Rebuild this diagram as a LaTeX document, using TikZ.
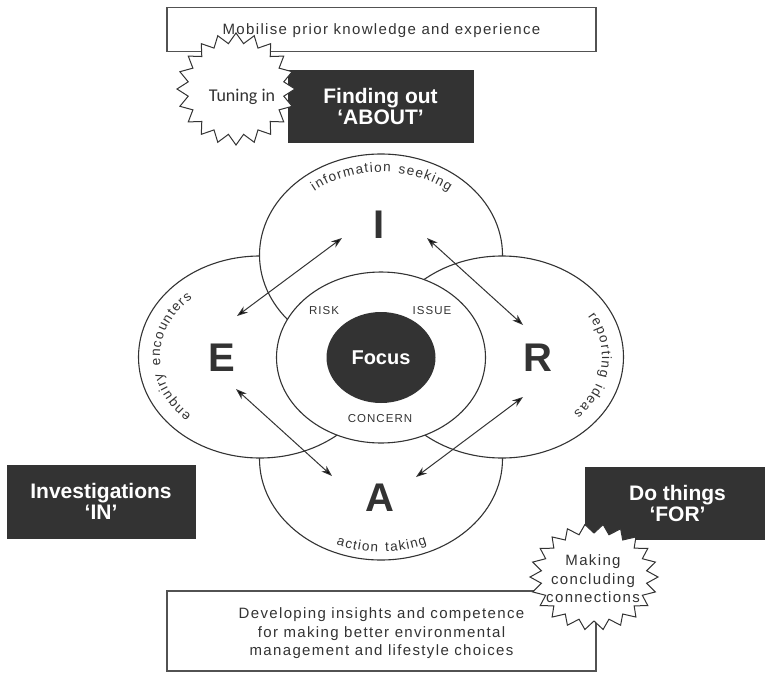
\documentclass[tikz,border=0pt]{standalone}
\usepackage{fontspec}
\setmainfont{Liberation Sans}
\newfontfamily\spaced[LetterSpace=9]{Liberation Sans}
\newfontfamily\calib{Carlito}
\usetikzlibrary{arrows.meta,shapes.geometric,decorations.text}
\definecolor{ink}{HTML}{333333}
\newcommand\arcfont{\spaced\fontsize{13.5}{13.5}\selectfont\kern1.3pt}

\begin{document}
\begin{tikzpicture}[x=1pt,y=-1pt,>={Stealth[length=11pt,width=7.5pt]},
  every node/.style={text=ink},
  plain/.style={font=\spaced\fontsize{15}{18.5}\selectfont,align=center},
  framebox/.style={draw=ink!85,line width=1.6pt,fill=white,inner sep=0pt},
  darkbox/.style={fill=ink,draw=ink,text=white,inner sep=0pt,align=center,
    font=\bfseries\fontsize{21}{21}\selectfont},
  lobe/.style={draw=ink,line width=1.1pt,fill=white},
  letter/.style={font=\bfseries\fontsize{40}{40}\selectfont,inner sep=0pt},
  small/.style={font=\spaced\fontsize{11.5}{11.5}\selectfont},
  arclabel/.style={decorate,decoration={text along path,text align=center,
    text color=ink,text={|\arcfont|#1}}},
  burst/.style={draw=ink,line width=1pt,fill=white},
  link/.style={<->,draw=ink,line width=1pt}]

\useasboundingbox (0,0) rectangle (765,672);

% boxes
\node[framebox,plain,text depth=0pt,minimum width=429,minimum height=44] (mobilise) at (381.5,29.5)
  {Mobilise prior knowledge and experience};
\node[darkbox,minimum width=185,minimum height=72] (about) at (380.5,106)
  {Finding out\\`ABOUT'};
\node[darkbox,minimum width=188,minimum height=73] (in) at (101,501.5)
  {Investigations\\`IN'};
\node[darkbox,minimum width=185,minimum height=72] (for) at (677.5,503)
  {Do things\\`FOR'};
\node[framebox,minimum width=429,minimum height=80] (develop) at (381.5,631) {};
\node[plain] (developtext) at (381.5,633.5)
  {Developing insights and competence\\for making better environmental\\management and lifestyle choices};

% the four lobes
\draw[lobe] (381,459) ellipse [x radius=121.5,y radius=101];
\draw[lobe] (260,357) ellipse [x radius=121.5,y radius=101];
\draw[lobe] (381,255) ellipse [x radius=121.5,y radius=101];
\draw[lobe] (502,357) ellipse [x radius=121.5,y radius=101];
\draw[lobe] (381,357.5) ellipse [x radius=104.5,y radius=85.5];

\path[arclabel={information seeking},shift={(381,255)}]
  (215:104.5 and 83) arc[start angle=215,end angle=325,x radius=104.5,y radius=83];
\path[arclabel={enquiry encounters},shift={(260,357)}]
  (125:100 and 80) arc[start angle=125,end angle=235,x radius=100,y radius=80];
\path[arclabel={reporting ideas},shift={(502,357)}]
  (-45:100 and 80) arc[start angle=-45,end angle=57,x radius=100,y radius=80];
\path[arclabel={action taking},shift={(381,459)}]
  (135:113 and 93) arc[start angle=135,end angle=45,x radius=113,y radius=93];

\node[ellipse,fill=ink,text=white,minimum width=109,minimum height=91,inner sep=0pt,
  font=\bfseries\fontsize{20}{20}\selectfont] (focus) at (381,357.5) {Focus};
\node[small] (risk) at (324,311) {RISK};
\node[small] (issue) at (432,311) {ISSUE};
\node[small] (concern) at (380,419) {CONCERN};

\node[letter] (I) at (379,225) {I};
\node[letter] (E) at (222,358) {E};
\node[letter] (R) at (538,358) {R};
\node[letter] (A) at (380,497.5) {A};

% arrow ends
\coordinate (ie) at (342,238);
\coordinate (ei) at (237,316);
\coordinate (ir) at (427,238);
\coordinate (ri) at (523,325);
\coordinate (ea) at (236,389);
\coordinate (ae) at (332,476);
\coordinate (ra) at (523,397);
\coordinate (ar) at (416,477);
\draw[link] (ie) -- (ei);
\draw[link] (ir) -- (ri);
\draw[link] (ea) -- (ae);
\draw[link] (ra) -- (ar);

% starbursts
\draw[burst,shift={(236,89)}] (0:59 and 56)
  \foreach \k in {1,...,39}{ -- ({\k*9}:{59*(1-0.18*mod(\k,2))} and {56*(1-0.18*mod(\k,2))}) } -- cycle;
\node[font=\calib\fontsize{18}{18}\selectfont] (tuning) at (242,97) {Tuning in};
\draw[burst,shift={(594,577)}] (0:64 and 53)
  \foreach \k in {1,...,43}{ -- ({\k*360/44}:{64*(1-0.17*mod(\k,2))} and {53*(1-0.17*mod(\k,2))}) } -- cycle;
\node[plain] (making) at (593,579) {Making\\concluding\\connections};
\end{tikzpicture}
\end{document}
